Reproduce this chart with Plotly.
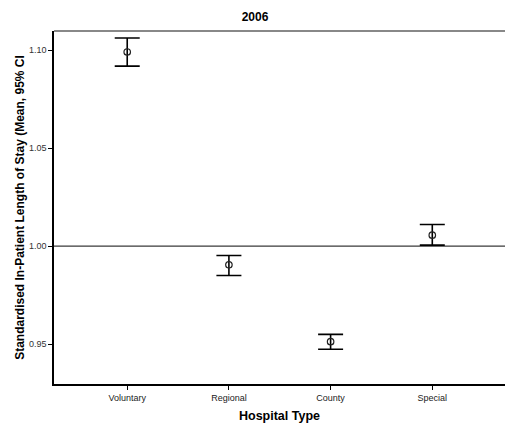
import plotly.graph_objects as go

# Hospital types and mean standardised in-patient length of stay with 95% CI
hospital_types = ["Voluntary", "Regional", "County", "Special"]
mean_los = [1.0990, 0.9905, 0.9513, 1.0056]
ci_upper = [1.1061, 0.9952, 0.9550, 1.0110]
ci_lower = [1.0918, 0.9850, 0.9474, 1.0005]
reference_value = 1.00
y_ticks = [0.95, 1.00, 1.05, 1.10]

err_plus = [u - m for u, m in zip(ci_upper, mean_los)]
err_minus = [m - l for m, l in zip(mean_los, ci_lower)]

FONT = "Liberation Sans, Arial, sans-serif"

fig = go.Figure()

# Reference line at 1.00
fig.add_shape(type="line", xref="paper", yref="y", x0=0, x1=1,
              y0=reference_value, y1=reference_value,
              line=dict(color="#3a3a3a", width=1.2), layer="below")

# Top frame line
fig.add_shape(type="line", xref="paper", yref="paper", x0=0, x1=1, y0=1, y1=1,
              line=dict(color="#888888", width=2))

fig.add_trace(go.Scatter(
    x=list(range(len(hospital_types))),
    y=mean_los,
    mode="markers",
    marker=dict(symbol="circle-open", size=6.5, color="#222222", line=dict(width=1.2)),
    error_y=dict(type="data", symmetric=False, array=err_plus, arrayminus=err_minus,
                 color="#000000", thickness=1.6, width=12.5),
    showlegend=False,
    hoverinfo="skip",
))

fig.update_layout(
    width=505, height=426,
    margin=dict(l=54, r=0, t=31, b=42),
    paper_bgcolor="white", plot_bgcolor="white",
    title=dict(text="<b>2006</b>", x=0.505, xanchor="center", y=1 - 17 / 426, yanchor="middle",
               font=dict(family=FONT, size=12, color="#000000")),
    font=dict(family=FONT, color="#000000"),
)

fig.update_xaxes(
    range=[-0.72, 3.715],
    tickmode="array", tickvals=list(range(len(hospital_types))), ticktext=hospital_types,
    ticks="outside", ticklen=4, tickwidth=1, tickcolor="#000000",
    tickfont=dict(family=FONT, size=9, color="#222222"),
    showline=True, linecolor="#000000", linewidth=1.5,
    showgrid=False, zeroline=False,
    title=dict(text="<b>Hospital Type</b>", font=dict(family=FONT, size=12.5, color="#000000"),
               standoff=10),
)

fig.update_yaxes(
    range=[0.9297, 1.1097],
    tickmode="array", tickvals=y_ticks, ticktext=[f"{v:.2f}" for v in y_ticks],
    ticks="outside", ticklen=4, tickwidth=1, tickcolor="#000000",
    tickfont=dict(family=FONT, size=9, color="#333333"),
    showline=True, linecolor="#000000", linewidth=1.5,
    showgrid=False, zeroline=False,
    title=dict(text="<b>Standardised In-Patient Length of Stay (Mean, 95% CI</b>",
               font=dict(family=FONT, size=12, color="#000000"), standoff=2),
)

fig.write_html("out.html")
